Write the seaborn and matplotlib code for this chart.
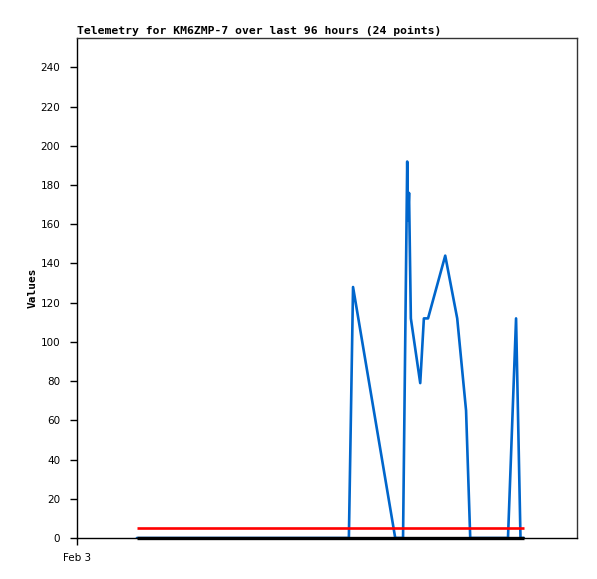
import matplotlib
matplotlib.use("Agg")
import matplotlib.pyplot as plt
import pandas as pd
import seaborn as sns

# hours since Feb 3 00:00 (window of 96 hours)
hours = [11.5, 52.2, 53.0, 61.1, 62.6, 63.4, 63.55, 63.75, 64.1, 65.9,
         66.6, 67.4, 70.7, 73.0, 74.7, 75.5, 82.75, 84.3, 85.15, 85.8]
values = [0, 0, 128, 0, 0, 192, 162, 176, 112, 79,
          112, 112, 144, 112, 65, 0, 0, 112, 0, 0]
limit_value = 5
baseline_value = 0
tick_labels = ["Feb 3"]

df = pd.DataFrame({"hour": hours, "value": values})

sns.set_style("white")
plt.rcParams["font.family"] = ["DejaVu Sans"]

fig = plt.figure(figsize=(5.97, 5.79), dpi=100)
ax = fig.add_axes([77 / 597, 1 - 538 / 579, 500 / 597, 500 / 579])

sns.lineplot(data=df, x="hour", y="value", ax=ax, color="#0066cc",
             linewidth=1.9, estimator=None, sort=False, zorder=2)
ax.plot([hours[0], hours[-1]], [limit_value, limit_value], color="#ff0000",
        linewidth=1.9, zorder=3, solid_capstyle="butt")
ax.plot([hours[0], hours[-1]], [baseline_value, baseline_value], color="black",
        linewidth=2.4, zorder=4, clip_on=False, solid_capstyle="butt")

ax.set_xlim(0, 96)
ax.set_ylim(0, 255)
ax.set_yticks(range(0, 241, 20))
ax.set_xticks([0])
ax.set_xticklabels(tick_labels)
ax.tick_params(axis="both", direction="out", length=5, width=1, color="black",
               labelcolor="black", labelsize=7.5, left=True, bottom=True)
ax.tick_params(axis="y", pad=7)
ax.tick_params(axis="x", pad=6)

for side in ["left", "bottom"]:
    ax.spines[side].set_color("black")
    ax.spines[side].set_linewidth(1)
for side in ["top", "right"]:
    ax.spines[side].set_color("#333333")
    ax.spines[side].set_linewidth(1)

ax.set_xlabel("")
ax.set_ylabel("Values", family="DejaVu Sans Mono", fontweight="bold",
              fontsize=8, labelpad=2, color="black")
ax.set_title("Telemetry for KM6ZMP-7 over last 96 hours (24 points)",
             family="DejaVu Sans Mono", fontweight="bold", fontsize=8.2,
             loc="left", pad=3, color="black")

fig.savefig("out.png", dpi=100)
plt.close(fig)
